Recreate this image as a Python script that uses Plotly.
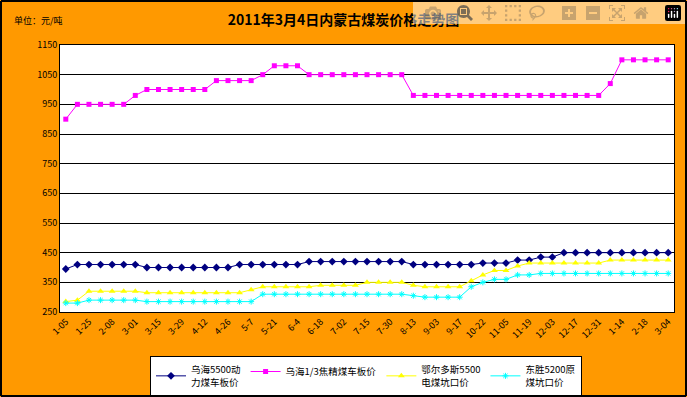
import plotly.graph_objects as go

# ---- data ----
tick_labels = ["1-05", "1-25", "2-08", "3-01", "3-15", "3-29", "4-12", "4-26", "5-7",
               "5-21", "6-4", "6-18", "7-02", "7-15", "7-30", "8-13", "9-03", "9-17",
               "10-22", "11-05", "11-19", "12-03", "12-17", "12-31", "1-14", "2-18", "3-04"]

wuhai_5500 = ([395] + [410] * 6 + [400] * 8 + [410] * 6 + [420] * 9 + [410] * 6 +
              [415] * 3 + [425] * 2 + [435] * 2 + [450] * 10)
wuhai_jiao = ([900] + [950] * 5 + [980] + [1000] * 6 + [1030] * 4 + [1050] + [1080] * 3 +
              [1050] * 9 + [980] * 17 + [1020] + [1100] * 5)
ordos_5500 = ([285, 290] + [320] * 5 + [315] * 9 + [325] + [335] * 5 + [340] * 4 + [350] * 4 +
              [340] + [335] * 4 + [355, 375] + [390] * 2 + [405] + [415] * 7 + [425] * 6)
dongsheng_5200 = ([280] * 2 + [290] * 5 + [285] * 10 + [310] * 13 + [305] + [300] * 4 +
                  [335, 350] + [360] * 2 + [375] * 2 + [380] * 12)

series_names = ["乌海5500动<br>力煤车板价", "乌海1/3焦精煤车板价",
                "鄂尔多斯5500<br>电煤坑口价", "东胜5200原<br>煤坑口价"]

n = len(wuhai_jiao)
x = list(range(n))
tick_pos = x[::2]
between_pos = [i + 0.5 for i in x[:-1]]

FONT = "Noto Sans CJK SC, Liberation Sans, sans-serif"
ORANGE = "#FF9900"

fig = go.Figure()
fig.add_trace(go.Scatter(x=x, y=wuhai_5500, name=series_names[0], mode="lines+markers",
                         line=dict(color="#000080", width=1),
                         marker=dict(symbol="diamond", size=6, color="#000080")))
fig.add_trace(go.Scatter(x=x, y=wuhai_jiao, name=series_names[1], mode="lines+markers",
                         line=dict(color="#FF00FF", width=1),
                         marker=dict(symbol="square", size=5, color="#FF00FF")))
fig.add_trace(go.Scatter(x=x, y=ordos_5500, name=series_names[2], mode="lines+markers",
                         line=dict(color="#FFFF00", width=1),
                         marker=dict(symbol="triangle-up", size=6, color="#FFFF00")))
fig.add_trace(go.Scatter(x=x, y=dongsheng_5200, name=series_names[3], mode="lines+markers",
                         line=dict(color="#00FFFF", width=1),
                         marker=dict(symbol="asterisk-open", size=5,
                                     line=dict(color="#00FFFF", width=1))))

L, R, T, B = 60, 13, 45, 85
W, H = 687, 397
pw, ph = W - L - R, H - T - B

# orange surround of the plot area (paper coordinates) and the outer black frame
ex0, ex1 = -L / pw, 1 + R / pw
ey0, ey1 = -B / ph, 1 + T / ph
shapes = [dict(type="rect", xref="paper", yref="paper", x0=a, y0=b, x1=c, y1=d,
               fillcolor=ORANGE, line=dict(width=0), layer="below")
          for a, b, c, d in [(ex0, 1, ex1, ey1), (ex0, ey0, ex1, 0),
                             (ex0, 0, 0, 1), (1, 0, ex1, 1)]]
fx0, fx1 = -(L - 1) / pw, 1 + (R - 1) / pw
fy0, fy1 = -(B - 1) / ph, 1 + (T - 1) / ph
shapes += [dict(type="line", xref="paper", yref="paper", x0=a, y0=b, x1=c, y1=d,
                line=dict(color="black", width=2), layer="above")
           for a, b, c, d in [(fx0, fy0, fx1, fy0), (fx0, fy1, fx1, fy1),
                              (fx0, fy0, fx0, fy1), (fx1, fy0, fx1, fy1)]]

fig.update_layout(
    template="none",
    width=W, height=H,
    margin=dict(l=L, r=R, t=T, b=B, pad=0, autoexpand=False),
    paper_bgcolor="white",
    plot_bgcolor="white",
    font=dict(family=FONT, size=9, color="black"),
    title=dict(text="<b>2011年3月4日内蒙古煤炭价格走势图</b>", x=0.5, xanchor="center",
               y=1 - 20 / H, yanchor="middle", font=dict(size=14, family=FONT)),
    showlegend=True,
    legend=dict(orientation="h", x=(366 - L) / pw, xanchor="center",
                y=-(356 - (T + ph)) / ph, yanchor="top",
                bgcolor="white", bordercolor="black", borderwidth=1,
                font=dict(size=9.5, family=FONT), itemwidth=30,
                tracegroupgap=0),
    xaxis=dict(range=[-0.5, n - 0.5], tickmode="array", tickvals=tick_pos,
               ticktext=tick_labels, tickangle=-45, ticks="", showgrid=False,
               showline=True, linecolor="black", linewidth=1, mirror=True,
               zeroline=False, tickfont=dict(size=9), automargin=False),
    # tick marks between categories
    xaxis2=dict(overlaying="x", anchor="y", side="bottom", range=[-0.5, n - 0.5],
                tickmode="array", tickvals=between_pos, ticks="inside", ticklen=4,
                tickcolor="black", showticklabels=False, showgrid=False,
                showline=False, zeroline=False, automargin=False),
    yaxis=dict(range=[250, 1150], tick0=250, dtick=100, showgrid=True,
               gridcolor="black", gridwidth=1, showline=True, linecolor="black",
               linewidth=1, mirror=True, zeroline=False, ticks="",
               tickfont=dict(size=9), automargin=False),
    annotations=[dict(text="单位：元/吨", xref="paper", yref="paper",
                      x=-(L - 12) / pw, y=1 + (T - 20) / ph, xanchor="left",
                      yanchor="middle", showarrow=False, font=dict(size=9, family=FONT))],
    shapes=shapes,
)

fig.write_html("out.html",
               post_script="document.body.style.margin='0';document.body.style.padding='0';")
